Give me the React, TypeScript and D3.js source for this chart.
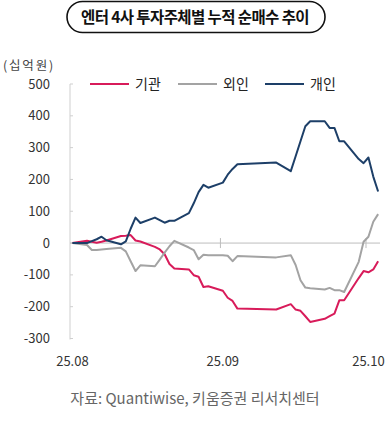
import React from "react";
import * as d3 from "d3";

const dates = [
  "2025-08-01", "2025-08-04", "2025-08-05", "2025-08-06", "2025-08-07", "2025-08-08",
  "2025-08-11", "2025-08-12", "2025-08-13", "2025-08-14", "2025-08-15",
  "2025-08-18", "2025-08-19", "2025-08-20", "2025-08-21", "2025-08-22",
  "2025-08-25", "2025-08-26", "2025-08-27", "2025-08-28", "2025-08-29",
  "2025-09-01", "2025-09-02", "2025-09-03", "2025-09-04", "2025-09-12",
  "2025-09-15", "2025-09-16", "2025-09-17", "2025-09-18", "2025-09-19",
  "2025-09-22", "2025-09-23", "2025-09-24", "2025-09-25", "2025-09-26",
  "2025-09-29", "2025-09-30", "2025-10-01", "2025-10-02", "2025-10-03",
];

const institution = [
  0, 7, 4, 1, 4, 8, 22, 23, 25, 8, 5, -12, -20, -35, -66, -80, -83, -101, -106, -138, -136,
  -150, -172, -182, -206, -209, -192, -209, -213, -230, -248, -238, -230, -222, -180, -180,
  -110, -88, -92, -83, -57,
];

const foreign = [
  0, -6, -22, -22, -20, -19, -15, -26, -57, -88, -70, -73, -52, -30, -10, 7, -14, -22, -51, -37, -38,
  -38, -40, -57, -41, -45, -38, -69, -117, -140, -142, -146, -141, -148, -148, -154,
  -59, 4, 20, 67, 91,
];

const individual = [
  0, 0, 6, 12, 20, 9, -4, 5, 45, 80, 63, 80, 72, 64, 70, 70, 94, 125, 160, 183, 174,
  190, 215, 233, 248, 253, 226, 273, 320, 367, 383, 383, 362, 362, 320, 320,
  264, 251, 269, 209, 162,
];

const seriesNames = ["기관", "외인", "개인"];
const seriesColors = ["#D81B5A", "#A3A3A3", "#1D3F68"];
const yTicks = [500, 400, 300, 200, 100, 0, -100, -200, -300];
const xTickDates = ["2025-08-01", "2025-09-01", "2025-10-01"];
const xTickLabels = ["25.08", "25.09", "25.10"];

const title = "엔터 4사 투자주체별 누적 순매수 추이";
const unitLabel = "(십억원)";
const sourceLabel = "자료: Quantiwise, 키움증권 리서치센터";

const FONT = "'Noto Sans CJK KR', 'Noto Sans', sans-serif";

function parseDate(s: string): Date {
  const [y, m, d] = s.split("-").map(Number);
  return new Date(y, m - 1, d);
}
const HALF_DAY = 12 * 3600 * 1000;

export default function App() {
  const x = d3
    .scaleTime()
    .domain([parseDate("2025-08-01"), parseDate("2025-10-01")])
    .range([70, 366]);
  const y = d3.scaleLinear().domain([-300, 500]).range([338.5, 84]);

  const xp = (s: string) => x(new Date(parseDate(s).getTime() + HALF_DAY));

  const allSeries = [institution, foreign, individual];
  const line = d3
    .line<number>()
    .x((_, i) => xp(dates[i]))
    .y((v) => y(v));

  const legendX = [90, 178, 265];

  return (
    <div style={{ position: "absolute", left: 0, top: 0 }}>
      <svg width={390} height={428} style={{ display: "block", background: "#fff" }}>
        {/* title pill */}
        <rect x={67} y={1.5} width={258} height={31} rx={15.5} fill="#fff" stroke="#111" strokeWidth={1.6} />
        <text x={195} y={22.5} textAnchor="middle" fontFamily={FONT} fontSize={15.5} fontWeight={700} fill="#111" letterSpacing={-0.6}>
          {title}
        </text>

        {/* unit */}
        <text x={3} y={69.5} fontFamily={FONT} fontSize={12.5} fill="#444" letterSpacing={1.8}>
          {unitLabel}
        </text>

        {/* y axis */}
        <line x1={70} x2={70} y1={y(500)} y2={y(-300) + 1} stroke="#cfcfcf" strokeWidth={1} />
        {yTicks.map((t) => (
          <g key={t}>
            <line x1={70} x2={73} y1={y(t)} y2={y(t)} stroke="#cfcfcf" strokeWidth={1} />
            <text x={50} y={y(t) + 4.5} textAnchor="end" fontFamily={FONT} fontSize={13} fill="#333">
              {t}
            </text>
          </g>
        ))}

        {/* zero line */}
        <line x1={70} x2={380} y1={y(0)} y2={y(0)} stroke="#bdbdbd" strokeWidth={1} />
        {xTickDates.slice(1).map((d) => (
          <line key={d} x1={x(parseDate(d))} x2={x(parseDate(d))} y1={y(0) - 5} y2={y(0) + 5} stroke="#bdbdbd" strokeWidth={1} />
        ))}
        {xTickDates.map((d, i) => (
          <text key={d} x={xp(d)} y={366} textAnchor="middle" fontFamily={FONT} fontSize={13} fill="#333">
            {xTickLabels[i]}
          </text>
        ))}

        {/* series */}
        {allSeries.map((s, i) => (
          <path key={i} d={line(s) || ""} fill="none" stroke={seriesColors[i]} strokeWidth={2} strokeLinejoin="round" />
        ))}

        {/* legend */}
        {seriesNames.map((n, i) => (
          <g key={n}>
            <line x1={legendX[i]} x2={legendX[i] + 39} y1={84} y2={84} stroke={seriesColors[i]} strokeWidth={2} />
            <text x={legendX[i] + 45} y={89} fontFamily={FONT} fontSize={14} fill="#222">
              {n}
            </text>
          </g>
        ))}

        {/* source */}
        <text x={195} y={403.5} textAnchor="middle" fontFamily={FONT} fontSize={15} fill="#666">
          {sourceLabel}
        </text>
      </svg>
    </div>
  );
}
